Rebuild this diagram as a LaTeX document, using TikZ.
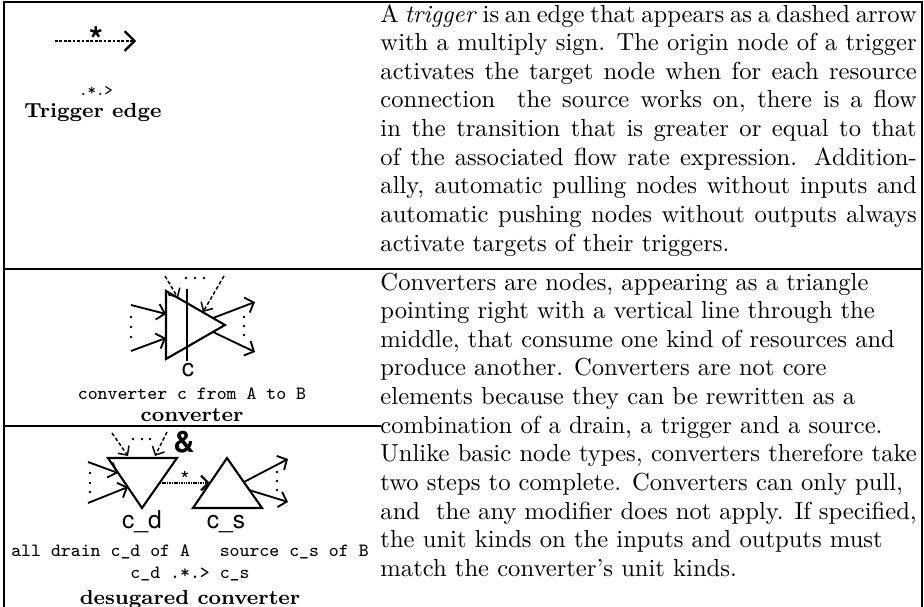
\documentclass[tikz,border=0pt]{standalone}
\usepackage{fontspec}
\newfontfamily\helv{TeX Gyre Heros}
\usetikzlibrary{arrows.meta}
\tikzset{
  tabrule/.style={line width=0.8pt},
  convshape/.style={line width=0.85pt,line join=miter},
  flowarrow/.style={line width=0.75pt,-{Straight Barb[length=3pt,width=6.5pt]}},
  trigarrow/.style={line width=0.6pt,dash pattern=on 1.5pt off 0.9pt,-{Straight Barb[length=2.8pt,width=5.5pt]}},
  edgearrow/.style={line width=0.9pt,dash pattern=on 1.1pt off 0.7pt,-{Straight Barb[length=4pt,width=8pt]}},
  fineedge/.style={line width=0.9pt,dash pattern=on 0.45pt off 0.25pt,-{Straight Barb[length=3pt,width=6pt]}},
  desc/.style={anchor=base west,inner sep=0pt,text width=218pt,align=justify,
    font=\fontsize{10}{11.65}\selectfont},
  codelabel/.style={anchor=base,inner sep=0pt,font=\fontsize{7.6}{9}\selectfont\ttfamily},
  namelabel/.style={anchor=base,inner sep=0pt,font=\fontsize{8.3}{10}\selectfont\bfseries},
  shapelabel/.style={anchor=base,inner sep=0pt,font=\helv}
}

\begin{document}
\begin{tikzpicture}[x=0.4065pt,y=-0.4065pt]
  \useasboundingbox (0,0) rectangle (924,607);
  % table rules
  \draw[tabrule] (4,607) -- (4,2) -- (922,2) -- (922,607);
  \draw[tabrule] (4,269) -- (922,269);
  \draw[tabrule] (4,426) -- (381,426);

  % trigger edge
  \coordinate (te1) at (55,41);
  \coordinate (te2) at (136,41);
  \draw[edgearrow] (te1) -- (te2);
  \node[anchor=base,inner sep=0pt,font=\Large\helv\bfseries] (testar) at (96,52) {*};
  \node[anchor=base,inner sep=0pt,font=\fontsize{6.5}{8}\selectfont\ttfamily] (tecode) at (96,95) {.*.>};
  \node[namelabel] (tename) at (93,117) {Trigger edge};

  % converter
  \coordinate (cvtop) at (166,291);
  \coordinate (cvbot) at (166,359);
  \coordinate (cvtip) at (225,325);
  \draw[convshape] (cvtop) -- (cvtip) -- (cvbot) -- cycle;
  \draw[convshape] (187,289) -- (187,361);
  \coordinate (cvin1) at (131,305); \coordinate (cvin1e) at (166,314);
  \coordinate (cvin2) at (131,351); \coordinate (cvin2e) at (166,338);
  \coordinate (cvout1) at (213,318); \coordinate (cvout1e) at (255,302);
  \coordinate (cvout2) at (213,332); \coordinate (cvout2e) at (255,352);
  \coordinate (cvtr1) at (165,276); \coordinate (cvtr1e) at (178,298);
  \coordinate (cvtr2) at (224,276); \coordinate (cvtr2e) at (203,312);
  \draw[flowarrow] (cvin1) -- (cvin1e);
  \draw[flowarrow] (cvin2) -- (cvin2e);
  \draw[flowarrow] (cvout1) -- (cvout1e);
  \draw[flowarrow] (cvout2) -- (cvout2e);
  \draw[trigarrow] (cvtr1) -- (cvtr1e);
  \draw[trigarrow] (cvtr2) -- (cvtr2e);
  \foreach \y in {317,327,337} \fill (131,\y) circle (0.55pt);
  \foreach \y in {317,326,335} \fill (244,\y) circle (0.55pt);
  \foreach \x in {186,195,204} \fill (\x,278) circle (0.55pt);
  \node[shapelabel] (cvname) at (188,376) {c};
  \node[codelabel] (cvcode) at (192,399) {converter c from A to B};
  \node[namelabel] (cvtitle) at (192,421) {converter};

  % desugared converter
  \coordinate (cdl) at (108,458); \coordinate (cdr) at (177,458); \coordinate (cdb) at (142,508);
  \coordinate (csl) at (193,508); \coordinate (csr) at (262,508); \coordinate (cst) at (227,458);
  \draw[convshape] (cdl) -- (cdr) -- (cdb) -- cycle;
  \draw[convshape] (csl) -- (csr) -- (cst) -- cycle;
  \coordinate (dtr) at (160,483); \coordinate (dtre) at (210,483);
  \draw[fineedge] (dtr) -- (dtre);
  \node[anchor=base,inner sep=0pt,font=\small\helv] (dstar) at (185,487) {*};
  \node[anchor=base,inner sep=0pt,font=\large\helv\bfseries] (damp) at (184,452) {\&};
  \coordinate (din1) at (88,462); \coordinate (din1e) at (118,473);
  \coordinate (din2) at (88,503); \coordinate (din2e) at (128,487);
  \coordinate (dout1) at (244,482); \coordinate (dout1e) at (288,459);
  \coordinate (dout2) at (249,490); \coordinate (dout2e) at (288,502);
  \coordinate (dtr1) at (112,433); \coordinate (dtr1e) at (128,456);
  \coordinate (dtr2) at (167,432); \coordinate (dtr2e) at (155,456);
  \draw[flowarrow] (din1) -- (din1e);
  \draw[flowarrow] (din2) -- (din2e);
  \draw[flowarrow] (dout1) -- (dout1e);
  \draw[flowarrow] (dout2) -- (dout2e);
  \draw[trigarrow] (dtr1) -- (dtr1e);
  \draw[trigarrow] (dtr2) -- (dtr2e);
  \foreach \y in {473,483,492} \fill (90,\y) circle (0.55pt);
  \foreach \y in {472,481,490} \fill (277,\y) circle (0.55pt);
  \foreach \x in {133,142,150} \fill (\x,439) circle (0.55pt);
  \node[shapelabel] (cdname) at (142,528) {c\_d};
  \node[shapelabel] (csname) at (226,528) {c\_s};
  \node[codelabel] (dcode1) at (190,556) {all drain c\_d of A\ \ \ source c\_s of B};
  \node[codelabel] (dcode2) at (190,578) {c\_d .*.> c\_s};
  \node[namelabel] (dtitle) at (190,604) {desugared converter};

  % descriptions
  \node[desc] (trigdesc) at (380,22) {A \emph{trigger} is an edge that appears as a dashed arrow\break
    with a multiply sign. The origin node of a trigger\break
    activates the target node when for each resource\break
    connection \ the source works on, there is a flow\break
    in the transition that is greater or equal to that\break
    of the associated flow rate expression. Addition-\break
    ally, automatic pulling nodes without inputs and\break
    automatic pushing nodes without outputs always\break
    activate targets of their triggers.};
  \node[desc] (convdesc) at (380,290) {Converters are nodes, appearing as a triangle\hfil\break
    pointing right with a vertical line through the\hfil\break
    middle, that consume one kind of resources and\hfil\break
    produce another. Converters are not core\hfil\break
    elements because they can be rewritten as a\hfil\break
    combination of a drain, a trigger and a source.\hfil\break
    Unlike basic node types, converters therefore take\break
    two steps to complete. Converters can only pull,\hfil\break
    and \ the any modifier does not apply. If specified,\break
    the unit kinds on the inputs and outputs must\hfil\break
    match the converter's unit kinds.};
\end{tikzpicture}
\end{document}
